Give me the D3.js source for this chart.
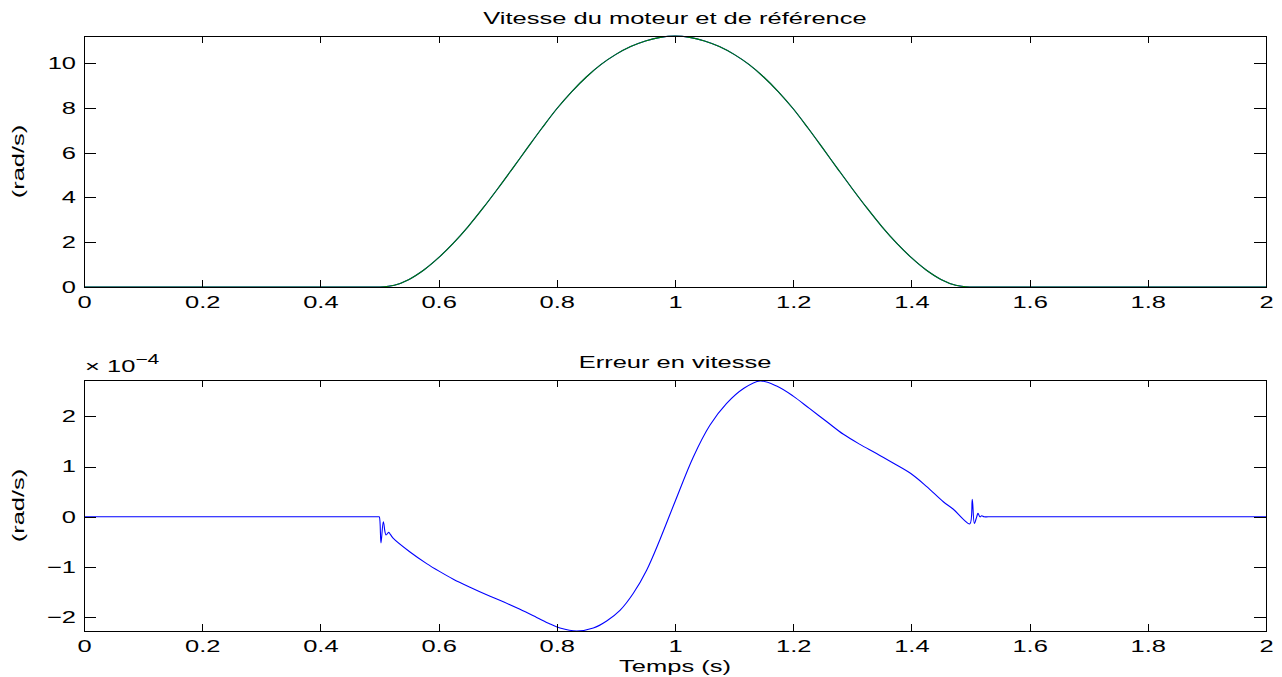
<!DOCTYPE html>
<head>
<meta charset="utf-8">
<style>
  body { margin: 0; background: #fff; }
  svg { display: block; background: #fff; }
  text { font-family: "Liberation Sans", Arial, sans-serif; font-size: 17px; fill: #000; }
  .frame { fill: none; stroke: #000; stroke-width: 1; shape-rendering: crispEdges; }
  .axis path { display: none; }
  .axis line { stroke: #000; shape-rendering: crispEdges; }
  .curve { fill: none; stroke-width: 1.1px; }
</style>
<script src="https://cdnjs.cloudflare.com/ajax/libs/d3/7.8.5/d3.min.js"></script>
</head>
<body>
<div id="chart"></div>
<script>
// ---- data ----
var timeTicks = [0, 0.2, 0.4, 0.6, 0.8, 1, 1.2, 1.4, 1.6, 1.8, 2];
var speedTicks = [0, 2, 4, 6, 8, 10];
var errTicks = [-2, -1, 0, 1, 2];

// speed (rad/s) : reference and motor overlap
var speedTime = [0, 0.2, 0.4, 0.45, 0.475, 0.5, 0.525, 0.55, 0.575, 0.6, 0.625, 0.65, 0.675, 0.7, 0.725, 0.75,
  0.775, 0.8, 0.825, 0.85, 0.875, 0.9, 0.925, 0.95, 0.975, 1.0,
  1.025, 1.05, 1.075, 1.1, 1.125, 1.15, 1.175, 1.2, 1.225, 1.25, 1.275, 1.3,
  1.325, 1.35, 1.375, 1.4, 1.425, 1.45, 1.475, 1.5, 1.525, 1.55, 1.6, 1.8, 2.0];
var speedRef = [0, 0, 0, 0, 0, 0, 0.08, 0.34, 0.76, 1.31, 1.96, 2.70, 3.52, 4.39, 5.29, 6.20,
  7.10, 7.96, 8.72, 9.38, 9.94, 10.39, 10.74, 10.99, 11.15, 11.21,
  11.15, 10.99, 10.74, 10.39, 9.94, 9.38, 8.72, 7.96, 7.10, 6.20, 5.29, 4.39,
  3.52, 2.70, 1.96, 1.31, 0.76, 0.34, 0.08, 0, 0, 0, 0, 0, 0];
var speedMotor = [0, 0, 0, 0, 0, 0, 0.08, 0.34, 0.76, 1.31, 1.96, 2.70, 3.52, 4.39, 5.29, 6.20,
  7.10, 7.96, 8.72, 9.38, 9.94, 10.39, 10.74, 10.99, 11.15, 11.21,
  11.15, 10.99, 10.74, 10.39, 9.94, 9.38, 8.72, 7.96, 7.10, 6.20, 5.29, 4.39,
  3.52, 2.70, 1.96, 1.31, 0.76, 0.34, 0.08, 0, 0, 0, 0, 0, 0];

// speed error, in units of 1e-4 rad/s
var errExponent = -4;
var errTime = [0, 0.2, 0.4, 0.47, 0.49, 0.4985, 0.4997, 0.5025, 0.5065, 0.511, 0.5155, 0.519, 0.5234, 0.5516, 0.5798,
  0.6007, 0.6249, 0.6531, 0.6813, 0.7095, 0.7377, 0.7659, 0.7885, 0.8054, 0.8336,
  0.8618, 0.8844, 0.9069, 0.9295, 0.952, 0.9746, 1.0, 1.031, 1.059, 1.087,
  1.116, 1.144, 1.172, 1.2, 1.228, 1.257, 1.285, 1.313, 1.341, 1.369,
  1.399, 1.426, 1.454, 1.471, 1.488, 1.499, 1.503, 1.5065, 1.5105, 1.5127,
  1.516, 1.519, 1.523, 1.53, 1.56, 1.65, 1.8, 2.0];
var errValue = [0, 0, 0, 0, 0, 0, 0, -0.52, -0.10, -0.36, -0.31, -0.36, -0.43, -0.70, -0.93,
  -1.08, -1.24, -1.40, -1.55, -1.69, -1.84, -2.00, -2.13, -2.21, -2.27,
  -2.21, -2.07, -1.86, -1.52, -1.06, -0.45, 0.30, 1.19, 1.82, 2.25,
  2.55, 2.70, 2.60, 2.40, 2.15, 1.89, 1.64, 1.44, 1.26, 1.07,
  0.86, 0.60, 0.30, 0.15, -0.05, -0.14, 0.35, -0.13, 0.0, 0.07,
  0.0, 0.02, 0, 0, 0, 0, 0, 0];

// ---- layout ----
var W = 1282, H = 677;
var SX = 1.5; // the picture is stretched along the text direction
var x0 = 84, x1 = 1266;
var panels = [
  {top: 36, bottom: 287},
  {top: 380, bottom: 631}
];

var svg = d3.select("#chart").append("svg").attr("width", W).attr("height", H);

function stext(g, x, y, str, anchor) {
  return g.append("text")
    .attr("transform", "translate(" + x + "," + y + ") scale(" + SX + ",1)")
    .attr("text-anchor", anchor || "middle")
    .text(str);
}

var xScale = d3.scaleLinear().domain([0, 2]).range([x0, x1]);
var fmt = function (d) { return d3.format("")(d).replace("-", "\u2212"); };

function drawPanel(p, yDomain, yTicks, series, title) {
  var y = d3.scaleLinear().domain(yDomain).range([p.bottom, p.top]);
  var g = svg.append("g");

  // curves
  var line = d3.line()
    .x(function (d) { return xScale(d[0]); })
    .y(function (d) { return y(d[1]); })
    .curve(d3.curveCatmullRom.alpha(0.5));
  series.forEach(function (s) {
    var pts = s.t.map(function (t, i) { return [t, s.v[i]]; });
    g.append("path").attr("class", "curve").attr("d", line(pts)).attr("stroke", s.color);
  });

  // frame + ticks on all four sides
  g.append("rect").attr("class", "frame")
    .attr("x", x0 + 0.5).attr("y", p.top + 0.5)
    .attr("width", x1 - x0).attr("height", p.bottom - p.top);

  var bx = g.append("g").attr("class", "axis")
    .attr("transform", "translate(0," + p.bottom + ")")
    .call(d3.axisBottom(xScale).tickValues(timeTicks).tickSize(-7).tickSizeOuter(0).tickPadding(9).tickFormat(fmt));
  bx.selectAll("text").attr("transform", "scale(" + SX + ",1)").style("font-size", "17px").style("font-family", null);

  g.append("g").attr("class", "axis")
    .attr("transform", "translate(0," + p.top + ")")
    .call(d3.axisTop(xScale).tickValues(timeTicks).tickSize(-7).tickSizeOuter(0).tickFormat(""));

  var ly = g.append("g").attr("class", "axis")
    .attr("transform", "translate(" + x0 + ",0)")
    .call(d3.axisLeft(y).tickValues(yTicks).tickSize(-12).tickSizeOuter(0).tickFormat(fmt));
  ly.selectAll("text").attr("x", -8 / SX).attr("transform", "scale(" + SX + ",1)")
    .style("font-size", "17px").style("font-family", null);

  g.append("g").attr("class", "axis")
    .attr("transform", "translate(" + x1 + ",0)")
    .call(d3.axisRight(y).tickValues(yTicks).tickSize(-12).tickSizeOuter(0).tickFormat(""));

  g.selectAll(".axis text").attr("fill", "#000");

  // title and y label
  stext(g, (x0 + x1) / 2, p.top - 12, title, "middle");
  g.append("text")
    .attr("transform", "translate(24," + ((p.top + p.bottom) / 2) + ") rotate(-90) scale(" + SX + ",1)")
    .attr("text-anchor", "middle")
    .text("(rad/s)");
  return g;
}

drawPanel(panels[0], [0, 11.21], speedTicks, [
  {t: speedTime, v: speedRef, color: "#0000ff"},
  {t: speedTime, v: speedMotor, color: "#008000"}
], "Vitesse du moteur et de r\u00e9f\u00e9rence");

var g2 = drawPanel(panels[1], [-2.27, 2.72], errTicks, [
  {t: errTime, v: errValue, color: "#0000ff"}
], "Erreur en vitesse");

// exponent label
var ex = g2.append("text")
  .attr("transform", "translate(" + (x0 + 1) + "," + (panels[1].top - 8) + ") scale(" + SX + ",1)")
  .attr("text-anchor", "start");
ex.append("tspan").text("\u00d7 10");
ex.append("tspan").attr("dy", -8).style("font-size", "14px").text("\u2212" + Math.abs(errExponent));

// x label
stext(svg, (x0 + x1) / 2, 672, "Temps (s)", "middle");
</script>
</body>
